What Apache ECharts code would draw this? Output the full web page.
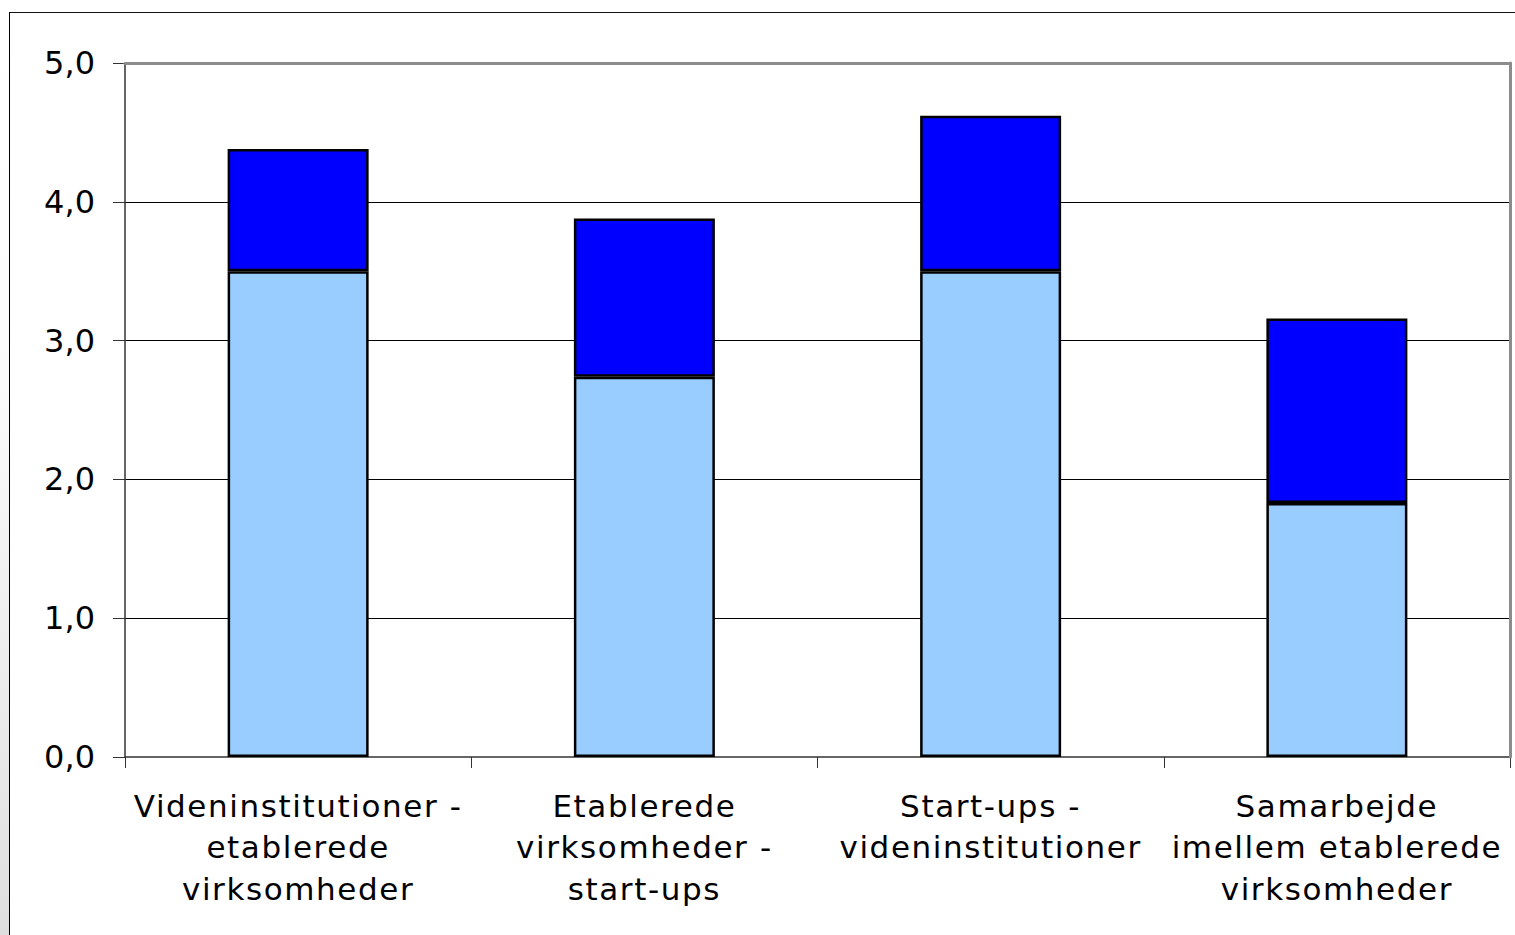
<!DOCTYPE html>
<html>
<head>
<meta charset="utf-8">
<script src="https://cdn.jsdelivr.net/npm/echarts@6/dist/echarts.min.js"></script>
<style>
  html, body { margin: 0; padding: 0; background: #fff; }
  #wrap { position: relative; width: 1515px; height: 935px; overflow: hidden; background: #fff; }
  #strip { position: absolute; left: 0; top: 0; width: 9px; height: 935px;
           background: linear-gradient(to bottom, #ffffff 0%, #fbfbfb 40%, #e6e6e6 85%, #dedede 100%); }
  #frame { position: absolute; left: 9px; top: 12px; width: 1520px; height: 940px;
           border-left: 1px solid #000; border-top: 1px solid #111; background: #fff; }
  #chart { position: absolute; left: 0; top: 0; width: 1515px; height: 935px; }
  #chart text[text-anchor="middle"] { letter-spacing: 1.6px; }
</style>
</head>
<body>
<div id="wrap">
  <div id="strip"></div>
  <div id="frame"></div>
  <div id="chart"></div>
</div>
<script>
const categories = [
  'Videninstitutioner -\netablerede\nvirksomheder',
  'Etablerede\nvirksomheder -\nstart-ups',
  'Start-ups -\nvideninstitutioner',
  'Samarbejde\nimellem etablerede\nvirksomheder'
];
const lowerValues = [3.50, 2.74, 3.50, 1.83];
const upperValues = [0.88, 1.14, 1.12, 1.33];
const yMin = 0;
const yMax = 5;
const yStep = 1;

const chart = echarts.init(document.getElementById('chart'), null, { renderer: 'svg' });
chart.setOption({
  animation: false,
  backgroundColor: 'transparent',
  textStyle: { fontFamily: 'DejaVu Sans' },
  grid: { left: 125, right: 5, top: 63, bottom: 178, containLabel: false },
  xAxis: [{
    type: 'category',
    data: categories,
    position: 'bottom',
    axisLine: { show: true, onZero: false, lineStyle: { color: '#333', width: 1.5 } },
    axisTick: { show: true, length: 11, lineStyle: { color: '#333', width: 1 } },
    axisLabel: {
      interval: 0, margin: 28, color: '#000',
      fontFamily: 'DejaVu Sans', fontSize: 31, lineHeight: 41.5
    }
  }, {
    type: 'category',
    data: categories,
    position: 'top',
    z: 5,
    axisLine: { show: true, onZero: false, lineStyle: { color: '#8c8c8c', width: 3 } },
    axisTick: { show: false },
    axisLabel: { show: false }
  }],
  yAxis: [{
    type: 'value',
    min: yMin, max: yMax, interval: yStep,
    position: 'left',
    axisLine: { show: true, onZero: false, lineStyle: { color: '#333', width: 1.5 } },
    axisTick: { show: true, length: 12, lineStyle: { color: '#333', width: 1 } },
    splitLine: { show: true, showMaxLine: false, showMinLine: false, lineStyle: { color: '#000', width: 1 } },
    axisLabel: {
      margin: 30, color: '#000', fontFamily: 'DejaVu Sans', fontSize: 32,
      formatter: v => v.toFixed(1).replace('.', ',')
    }
  }, {
    type: 'value',
    min: yMin, max: yMax, interval: yStep,
    position: 'right',
    z: 5,
    axisLine: { show: true, onZero: false, lineStyle: { color: '#8c8c8c', width: 3 } },
    axisTick: { show: false },
    axisLabel: { show: false },
    splitLine: { show: false }
  }],
  series: [{
    type: 'bar',
    stack: 'total',
    data: lowerValues,
    barWidth: 141,
    itemStyle: { color: '#99CCFF', borderColor: '#000', borderWidth: 2.5 }
  }, {
    type: 'bar',
    stack: 'total',
    data: upperValues,
    barWidth: 141,
    itemStyle: { color: '#0000FF', borderColor: '#000', borderWidth: 2.5 }
  }]
});
</script>
</body>
</html>
